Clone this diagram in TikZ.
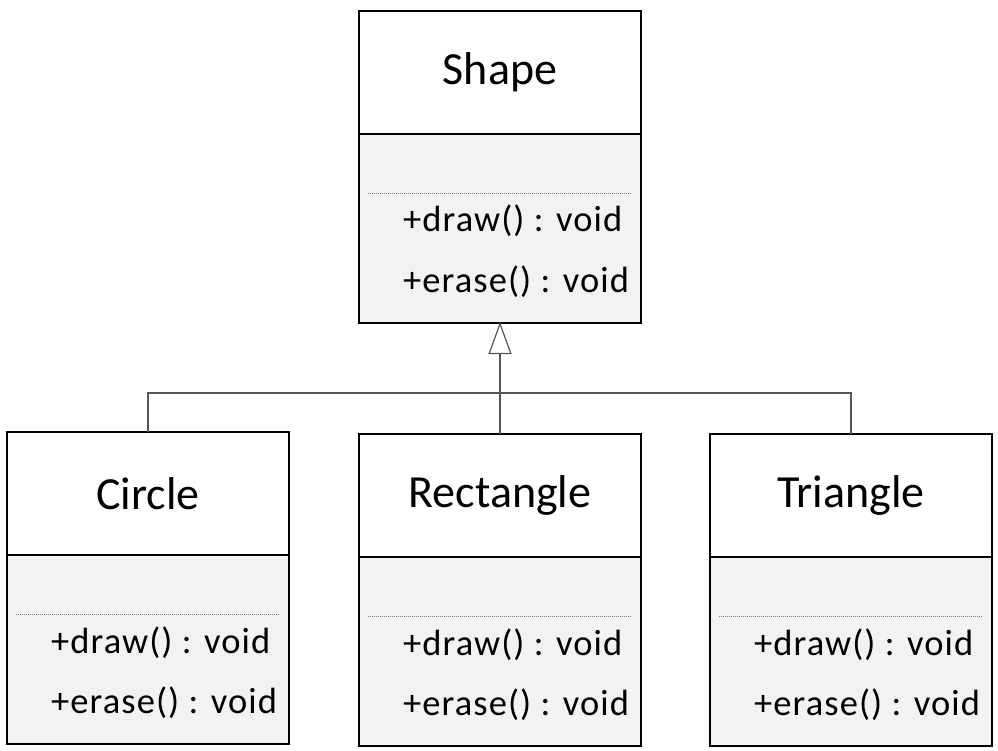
\documentclass[tikz,border=0pt]{standalone}
\usepackage{fontspec}
\setmainfont{Carlito}
\newfontfamily\memberfont[LetterSpace=3.0]{Carlito}
\usetikzlibrary{arrows.meta,positioning}

\definecolor{compgray}{HTML}{F2F2F2}
\definecolor{linkgray}{HTML}{555555}
\definecolor{dotgray}{HTML}{7F7F7F}

\tikzset{
  header/.style={draw=black, line width=2.9pt, fill=white, rectangle, outer sep=0pt,
    minimum width=282pt, minimum height=123pt, inner sep=0pt,
    font=\fontsize{46}{55}\selectfont},
  compartment/.style={draw=black, line width=2.9pt, fill=compgray, rectangle, outer sep=0pt,
    minimum width=282pt, minimum height=189pt, inner sep=0pt},
  member/.style={anchor=base west, inner sep=0pt,
    font=\memberfont\fontsize{36.5}{44}\selectfont},
  separator/.style={draw=dotgray, line width=0.9pt, dash pattern=on 1pt off 1pt},
  link/.style={draw=linkgray, line width=1.2pt},
}

% one UML class: header with name, compartment with a dotted separator and two operations
\newcommand{\umlclassbox}[4]{% node name, left x, top y, class name
  \node[compartment, anchor=north west] (#1b) at (#2,#3+123) {};
  \node[header, anchor=north west] (#1) at (#2,#3) {#4};
  \draw[separator] ([xshift=9pt,yshift=-59pt]#1b.north west) -- ([xshift=-9pt,yshift=-59pt]#1b.north east);
  \node[member] (#1draw) at ([xshift=44pt,yshift=-98pt]#1b.north west) {+draw() : void};
  \node[member] (#1erase) at ([xshift=44pt,yshift=-158pt]#1b.north west) {+erase() : void};
}

\begin{document}
\begin{tikzpicture}[x=1pt,y=-1pt]
  \useasboundingbox (0,0) rectangle (998,751);

  \umlclassbox{shape}{359}{11}{Shape}
  \umlclassbox{circle}{7}{432}{Circle}
  \umlclassbox{rect}{359}{434}{Rectangle}
  \umlclassbox{tri}{710}{434}{Triangle}

  % generalization: subclasses join a common bus, one open triangle into the superclass
  \coordinate (bus) at (500,393);
  \draw[link] (circle.north) |- (bus);
  \draw[link] (tri.north) |- (bus);
  \draw[link, -{Triangle[open, length=32pt, width=23pt, line width=1.2pt, fill=white]}]
    (rect.north) -- ([yshift=1pt]shapeb.south);
\end{tikzpicture}
\end{document}
